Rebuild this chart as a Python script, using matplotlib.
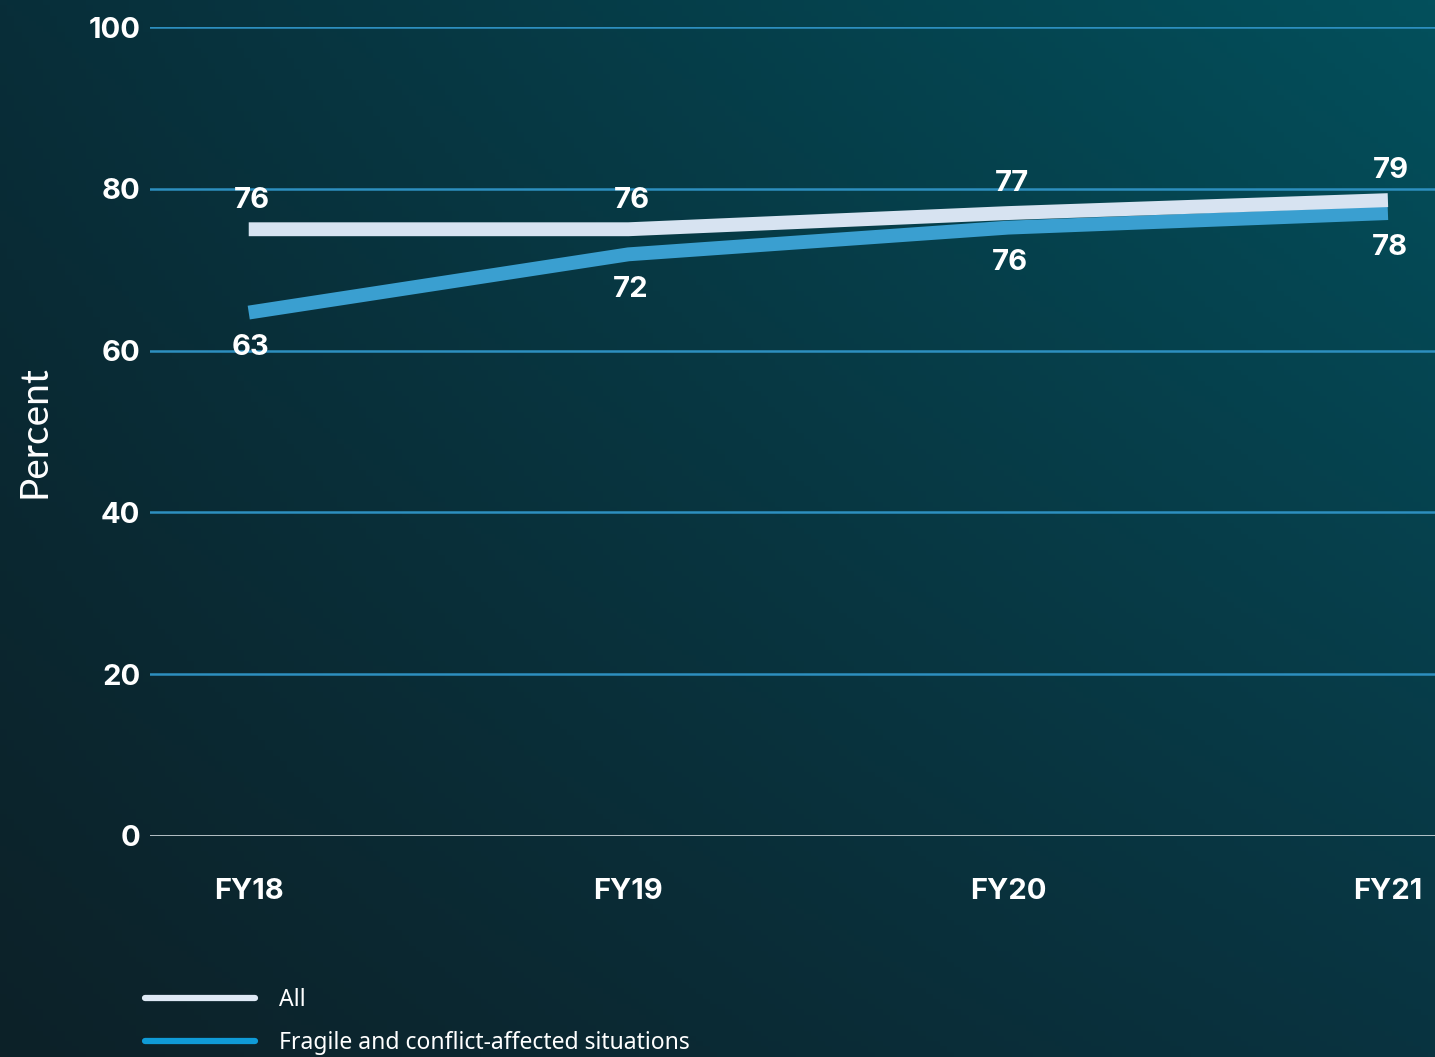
import numpy as np
import matplotlib
matplotlib.use('Agg')
import matplotlib.pyplot as plt
from matplotlib.lines import Line2D

years = ['FY18', 'FY19', 'FY20', 'FY21']
all_values = [75.0, 75.0, 77.0, 78.6]
fcs_values = [64.7, 71.9, 75.2, 77.0]
all_labels = ['76', '76', '77', '79']
fcs_labels = ['63', '72', '76', '78']
yticks = [0, 20, 40, 60, 80, 100]

FONT = 'Inter'

fig = plt.figure(figsize=(14.35, 10.57), dpi=100)

# background gradient (corner colours)
bg = fig.add_axes([0, 0, 1, 1], zorder=-10)
tl = np.array([0x08, 0x2e, 0x39]) / 255
tr = np.array([0x03, 0x50, 0x5c]) / 255
bl = np.array([0x0d, 0x21, 0x28]) / 255
br = np.array([0x09, 0x33, 0x40]) / 255
u = np.linspace(0, 1, 200)[None, :, None]
v = np.linspace(0, 1, 200)[:, None, None]
img = (1 - v) * ((1 - u) * tl + u * tr) + v * ((1 - u) * bl + u * br)
bg.imshow(img, aspect='auto', extent=[0, 1, 0, 1])
bg.axis('off')

ax = fig.add_axes([150 / 1435, 221 / 1057, 1 - 150 / 1435, 809 / 1057])
ax.set_facecolor('none')
x = np.arange(len(years))

for y in yticks:
    if y == 0:
        ax.axhline(y, color='#e8eef2', lw=1.8, zorder=1)
    else:
        ax.axhline(y, color='#2d8fbf', lw=1.8, zorder=1)

ax.plot(x, fcs_values, color='#3a9fd0', lw=10, solid_capstyle='butt', zorder=2)
ax.plot(x, all_values, color='#d7e3f1', lw=10, solid_capstyle='butt', zorder=3)

for xi, v, lab in zip(x, all_values, all_labels):
    ax.annotate(lab, (xi, v), xytext=(2.5, 21), textcoords='offset points',
                ha='center', va='center', color='white', fontsize=21,
                fontweight='bold', family=FONT)
for xi, v, lab in zip(x, fcs_values, fcs_labels):
    ax.annotate(lab, (xi, v), xytext=(1.5, -25), textcoords='offset points',
                ha='center', va='center', color='white', fontsize=21,
                fontweight='bold', family=FONT)

ax.set_xlim(-0.26, 3.124)
ax.set_ylim(0, 100)
ax.set_yticks(yticks)
ax.set_xticks(x)
ax.set_xticklabels(years)
ax.tick_params(length=0, colors='white', labelsize=21, pad=7)
ax.tick_params(axis='x', pad=30)
for lab in ax.get_xticklabels() + ax.get_yticklabels():
    lab.set_fontweight('bold')
    lab.set_family(FONT)
for s in ax.spines.values():
    s.set_visible(False)
ax.set_ylabel('Percent', color='white', fontsize=28, family='Lato', labelpad=26)

handles = [Line2D([], [], color='#dfe9f5', lw=4.5, solid_capstyle='round'),
           Line2D([], [], color='#0f9bd7', lw=4.5, solid_capstyle='round')]
fig.legend(handles, ['All', 'Fragile and conflict-affected situations'],
           loc='upper left', bbox_to_anchor=(124 / 1435, 1 - 967 / 1057),
           frameon=False, handlelength=4.8, handletextpad=1.05,
           labelspacing=0.85, labelcolor='white',
           prop={'family': 'Noto Sans', 'size': 16.5})

fig.savefig('out.png', dpi=100)
